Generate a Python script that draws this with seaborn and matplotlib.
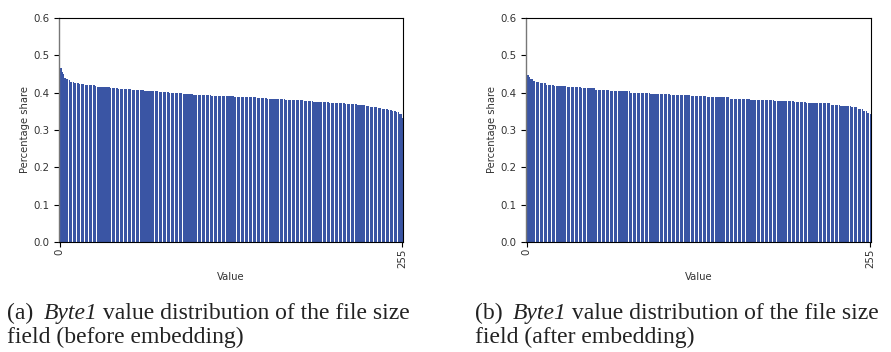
import numpy as np
import pandas as pd
import seaborn as sns
import matplotlib.pyplot as plt

# sorted share of each Byte1 value (rank 0..255)
before = [
    0.483, 0.466, 0.454, 0.450, 0.439, 0.436, 0.436, 0.434, 0.429, 0.429, 0.429, 0.427, 0.427, 0.425, 0.425, 0.424,
    0.423, 0.423, 0.423, 0.421, 0.421, 0.421, 0.421, 0.421, 0.421, 0.421, 0.421, 0.418, 0.414, 0.414, 0.414, 0.414,
    0.414, 0.414, 0.414, 0.414, 0.414, 0.414, 0.413, 0.413, 0.413, 0.413, 0.413, 0.413, 0.410, 0.410, 0.410, 0.410,
    0.410, 0.410, 0.410, 0.410, 0.410, 0.410, 0.407, 0.407, 0.407, 0.407, 0.407, 0.407, 0.407, 0.407, 0.407, 0.404,
    0.404, 0.404, 0.404, 0.404, 0.404, 0.404, 0.404, 0.404, 0.404, 0.404, 0.402, 0.402, 0.402, 0.402, 0.402, 0.402,
    0.402, 0.402, 0.399, 0.399, 0.399, 0.399, 0.399, 0.399, 0.399, 0.399, 0.399, 0.399, 0.396, 0.396, 0.396, 0.396,
    0.396, 0.396, 0.396, 0.396, 0.394, 0.394, 0.394, 0.394, 0.394, 0.394, 0.394, 0.394, 0.394, 0.394, 0.394, 0.394,
    0.394, 0.391, 0.391, 0.391, 0.391, 0.391, 0.391, 0.391, 0.391, 0.391, 0.391, 0.391, 0.391, 0.391, 0.391, 0.391,
    0.391, 0.391, 0.388, 0.388, 0.388, 0.388, 0.388, 0.388, 0.388, 0.388, 0.388, 0.388, 0.388, 0.388, 0.388, 0.388,
    0.388, 0.388, 0.388, 0.386, 0.386, 0.386, 0.386, 0.386, 0.386, 0.386, 0.386, 0.383, 0.383, 0.383, 0.383, 0.383,
    0.383, 0.383, 0.383, 0.383, 0.383, 0.383, 0.383, 0.383, 0.380, 0.380, 0.380, 0.380, 0.380, 0.380, 0.380, 0.380,
    0.380, 0.380, 0.380, 0.380, 0.380, 0.380, 0.378, 0.378, 0.378, 0.378, 0.378, 0.378, 0.378, 0.375, 0.375, 0.375,
    0.375, 0.375, 0.375, 0.375, 0.375, 0.375, 0.375, 0.375, 0.375, 0.373, 0.373, 0.373, 0.373, 0.373, 0.373, 0.373,
    0.373, 0.373, 0.373, 0.373, 0.373, 0.370, 0.370, 0.370, 0.370, 0.370, 0.370, 0.370, 0.370, 0.370, 0.367, 0.367,
    0.367, 0.367, 0.367, 0.367, 0.365, 0.365, 0.365, 0.362, 0.362, 0.362, 0.362, 0.362, 0.362, 0.359, 0.359, 0.359,
    0.357, 0.357, 0.357, 0.357, 0.357, 0.354, 0.354, 0.354, 0.352, 0.352, 0.352, 0.349, 0.349, 0.342, 0.342, 0.333,
]

after = [
    0.490, 0.448, 0.441, 0.436, 0.436, 0.432, 0.432, 0.429, 0.429, 0.429, 0.425, 0.425, 0.425, 0.425, 0.425, 0.421,
    0.421, 0.421, 0.421, 0.421, 0.421, 0.419, 0.419, 0.419, 0.419, 0.419, 0.419, 0.419, 0.419, 0.419, 0.416, 0.416,
    0.416, 0.416, 0.416, 0.416, 0.416, 0.416, 0.416, 0.416, 0.416, 0.412, 0.412, 0.412, 0.412, 0.412, 0.412, 0.412,
    0.412, 0.412, 0.412, 0.408, 0.408, 0.408, 0.408, 0.408, 0.408, 0.408, 0.408, 0.408, 0.408, 0.408, 0.404, 0.404,
    0.404, 0.404, 0.404, 0.404, 0.404, 0.404, 0.404, 0.404, 0.404, 0.404, 0.404, 0.404, 0.404, 0.400, 0.400, 0.400,
    0.400, 0.400, 0.400, 0.400, 0.400, 0.400, 0.400, 0.400, 0.400, 0.400, 0.400, 0.400, 0.396, 0.396, 0.396, 0.396,
    0.396, 0.396, 0.396, 0.396, 0.396, 0.396, 0.396, 0.396, 0.396, 0.396, 0.396, 0.394, 0.394, 0.394, 0.394, 0.394,
    0.394, 0.394, 0.394, 0.394, 0.394, 0.394, 0.394, 0.394, 0.394, 0.394, 0.391, 0.391, 0.391, 0.391, 0.391, 0.391,
    0.391, 0.391, 0.391, 0.391, 0.391, 0.391, 0.388, 0.388, 0.388, 0.388, 0.388, 0.388, 0.388, 0.388, 0.388, 0.388,
    0.388, 0.388, 0.388, 0.388, 0.388, 0.388, 0.388, 0.384, 0.384, 0.384, 0.384, 0.384, 0.384, 0.384, 0.384, 0.384,
    0.384, 0.384, 0.384, 0.384, 0.384, 0.384, 0.381, 0.381, 0.381, 0.381, 0.381, 0.381, 0.381, 0.381, 0.381, 0.381,
    0.381, 0.381, 0.381, 0.381, 0.381, 0.381, 0.381, 0.381, 0.378, 0.378, 0.378, 0.378, 0.378, 0.378, 0.378, 0.378,
    0.378, 0.378, 0.378, 0.378, 0.378, 0.378, 0.378, 0.374, 0.374, 0.374, 0.374, 0.374, 0.374, 0.374, 0.374, 0.374,
    0.371, 0.371, 0.371, 0.371, 0.371, 0.371, 0.371, 0.371, 0.371, 0.371, 0.371, 0.371, 0.371, 0.371, 0.371, 0.371,
    0.371, 0.371, 0.368, 0.368, 0.368, 0.368, 0.368, 0.368, 0.368, 0.364, 0.364, 0.364, 0.364, 0.364, 0.364, 0.364,
    0.364, 0.361, 0.361, 0.361, 0.361, 0.361, 0.356, 0.356, 0.356, 0.356, 0.351, 0.351, 0.351, 0.345, 0.345, 0.343,
]

xticklabels = ['0', '255']
# caption pieces: (text, italic?)
captions = [
    [[('(a) ', False), ('Byte1', True), (' value distribution of the file size', False)],
     [('field (before embedding)', False)]],
    [[('(b) ', False), ('Byte1', True), (' value distribution of the file size', False)],
     [('field (after embedding)', False)]],
]

sns.set_style('white')
plt.rcParams['font.family'] = ['DejaVu Sans']

bar_color = '#3A55A4'
text_color = '#333333'

fig = plt.figure(figsize=(8.91, 3.52), dpi=100)
ax_a = fig.add_axes([0.0662, 0.3125, 0.3861, 0.6364])
ax_b = fig.add_axes([0.5903, 0.3125, 0.3872, 0.6364])

for ax, vals in [(ax_a, before), (ax_b, after)]:
    df = pd.DataFrame({'rank': np.arange(len(vals)), 'share': vals})
    sns.barplot(data=df, x='rank', y='share', color=bar_color, saturation=1,
                width=0.8, linewidth=0, ax=ax)
    ax.set_xlim(-0.5, len(vals) - 0.5)
    ax.set_ylim(0, 0.6)
    ax.set_yticks([0.0, 0.1, 0.2, 0.3, 0.4, 0.5, 0.6])
    ax.set_yticklabels(['0.0', '0.1', '0.2', '0.3', '0.4', '0.5', '0.6'])
    ax.set_xticks([0, len(vals) - 1])
    ax.set_xticklabels(xticklabels, rotation=90)
    ax.tick_params(axis='both', labelsize=7.4, labelcolor=text_color, color='black',
                   length=3.5, width=0.8, direction='out', bottom=True, left=True)
    ax.tick_params(axis='x', pad=1.5)
    ax.set_xlabel('Value', fontsize=7.2, color=text_color, labelpad=3)
    ax.set_ylabel('Percentage share', fontsize=7.2, color=text_color, labelpad=2)
    for side in ['top', 'right', 'bottom']:
        ax.spines[side].set_color('black')
        ax.spines[side].set_linewidth(0.8)
    ax.spines['left'].set_color('#777777')
    ax.spines['left'].set_linewidth(1.0)

renderer = fig.canvas.get_renderer()
W = fig.get_figwidth() * fig.dpi
for x0, lines in [(0.008, captions[0]), (0.533, captions[1])]:
    for y0, pieces in zip([0.094, 0.026], lines):
        x = x0
        for txt, ital in pieces:
            t = fig.text(x, y0, txt, fontsize=17, family='Liberation Serif',
                         style='italic' if ital else 'normal',
                         color='#222222', va='baseline', ha='left')
            bb = t.get_window_extent(renderer=renderer)
            # trailing/leading spaces are not in the bbox width, add them back
            x += bb.width / W
            if txt.endswith(' '):
                x += 4.2 / W

fig.savefig('out.png', dpi=100)
